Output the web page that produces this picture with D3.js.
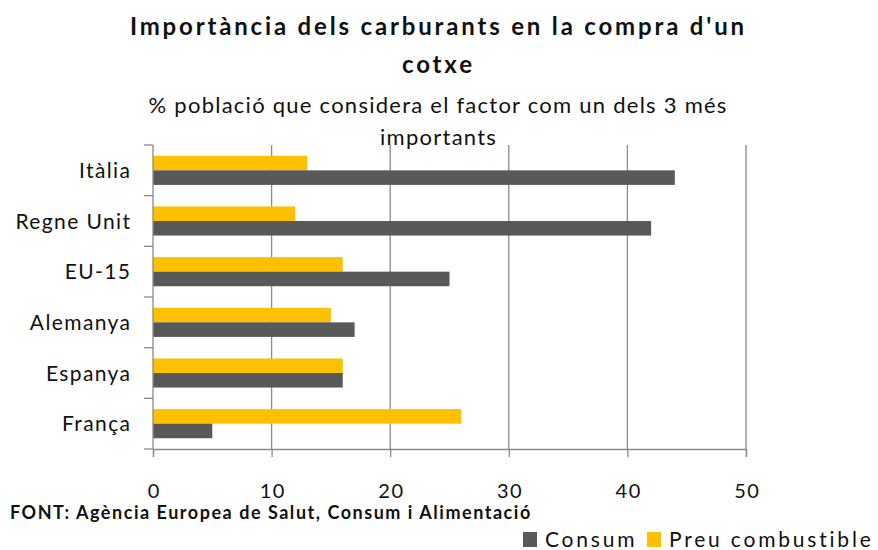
<!DOCTYPE html>
<html><head><meta charset="utf-8">
<script src="https://cdn.jsdelivr.net/npm/d3@7"></script>
<style>
html,body{margin:0;padding:0;background:#fff;}
svg{display:block;}
text{font-family:Lato,"Open Sans",sans-serif;fill:#111;}
</style></head>
<body>
<svg id="chart" width="878" height="550"></svg>
<script>
const categories = ["Itàlia","Regne Unit","EU-15","Alemanya","Espanya","França"];
const consum = [44,42,25,17,16,5];
const preuCombustible = [13,12,16,15,16,26];
const seriesNames = ["Preu combustible","Consum"];
const legendNames = ["Consum","Preu combustible"];
const xTicks = [0,10,20,30,40,50];
const titleLines = ["Importància dels carburants en la compra d'un","cotxe"];
const subtitleLines = ["% població que considera el factor com un dels 3 més","importants"];
const sourceText = "FONT: Agència Europea de Salut, Consum i Alimentació";

const colors = {"Consum":"#595959","Preu combustible":"#FFC000"};
const svg = d3.select("#chart");

// spread letters so a text reaches the width seen in the reference
function spacingFor(node, target){
  const w = node.getComputedTextLength();
  const n = node.textContent.length;
  return (target - w) / n;
}

const x = d3.scaleLinear().domain([0,50]).range([153,746]);
const y0 = d3.scaleBand().domain(categories).range([145,449]).padding(0);
const y1 = d3.scaleBand().domain(seriesNames).range([0,y0.bandwidth()]).paddingInner(0).paddingOuter(0.74);

// gridlines
svg.append("g").selectAll("line").data(xTicks.filter(d=>d>0)).join("line")
  .attr("x1",d=>x(d)).attr("x2",d=>x(d)).attr("y1",145).attr("y2",449)
  .attr("stroke","#8a8a8a").attr("stroke-width",1.3);

// bars
const rows = categories.map((c,i)=>({cat:c, vals:[{s:"Preu combustible",v:preuCombustible[i]},{s:"Consum",v:consum[i]}]}));
const g = svg.append("g").selectAll("g").data(rows).join("g")
  .attr("transform",d=>`translate(0,${y0(d.cat)})`);
g.selectAll("rect").data(d=>d.vals).join("rect")
  .attr("x",x(0)).attr("y",d=>y1(d.s)).attr("height",y1.bandwidth())
  .attr("width",d=>x(d.v)-x(0)).attr("fill",d=>colors[d.s]);

// left axis line + ticks at band boundaries
const bounds = categories.map(c=>y0(c)).concat([y0.range()[1]]);
svg.append("line").attr("x1",x(0)).attr("x2",x(0)).attr("y1",145).attr("y2",449)
  .attr("stroke","#8a8a8a").attr("stroke-width",1.3);
svg.append("g").selectAll("line").data(bounds).join("line")
  .attr("x1",x(0)-9).attr("x2",x(0)).attr("y1",d=>d).attr("y2",d=>d)
  .attr("stroke","#8a8a8a").attr("stroke-width",1.3);

// category labels
const catLabels = svg.append("g").selectAll("text").data(categories).join("text")
  .attr("x",130).attr("y",d=>y0(d)+y0.bandwidth()/2).attr("dy","0.36em")
  .attr("text-anchor","end").attr("font-size",21).text(d=>d);
{
  const ref = catLabels.filter(d=>d==="Regne Unit").node();
  const ls = spacingFor(ref,116);
  catLabels.attr("letter-spacing",ls.toFixed(2)).attr("x",130+ls);
}

// bottom axis
const xAxis = svg.append("g").attr("transform","translate(0,449)")
  .call(d3.axisBottom(x).tickValues(xTicks).tickSize(8).tickPadding(27).tickFormat(d3.format("d")));
xAxis.select(".domain").attr("stroke","#8a8a8a").attr("stroke-width",1.3);
xAxis.selectAll(".tick line").attr("stroke","#8a8a8a").attr("stroke-width",1.3);
xAxis.selectAll(".tick text").attr("font-size",20).attr("font-family","Lato,sans-serif")
  .attr("fill","#111").attr("letter-spacing",1.5).attr("dx",0.75);

// title
const t1 = svg.append("text").attr("x",437).attr("y",35).attr("text-anchor","middle")
  .attr("font-weight","bold").attr("font-size",24).text(titleLines[0]);
const tls = spacingFor(t1.node(),617);
t1.attr("letter-spacing",tls.toFixed(2)).attr("dx",tls/2);
svg.append("text").attr("x",437).attr("y",73).attr("text-anchor","middle")
  .attr("font-weight","bold").attr("font-size",24).attr("letter-spacing",tls.toFixed(2)).attr("dx",tls/2)
  .text(titleLines[1]);

// subtitle
const s1 = svg.append("text").attr("x",437.5).attr("y",113).attr("text-anchor","middle")
  .attr("font-size",22).text(subtitleLines[0]);
const sls = spacingFor(s1.node(),579);
s1.attr("letter-spacing",sls.toFixed(2)).attr("dx",sls/2);
svg.append("text").attr("x",438).attr("y",145).attr("text-anchor","middle")
  .attr("font-size",22).attr("letter-spacing",sls.toFixed(2)).attr("dx",sls/2).text(subtitleLines[1]);

// source
const src = svg.append("text").attr("x",10).attr("y",519).attr("font-weight","bold")
  .attr("font-size",18).text(sourceText);
src.attr("letter-spacing",spacingFor(src.node(),522).toFixed(2));

// legend
const legX = [523,647];
const leg = svg.append("g").selectAll("g").data(legendNames).join("g")
  .attr("transform",(d,i)=>`translate(${legX[i]},0)`);
leg.append("rect").attr("x",0).attr("y",532).attr("width",14).attr("height",15).attr("fill",d=>colors[d]);
const legT = leg.append("text").attr("x",22).attr("y",547).attr("font-size",21).text(d=>d);
{
  const ref = legT.filter(d=>d==="Preu combustible").node();
  legT.attr("letter-spacing",spacingFor(ref,205).toFixed(2));
}
</script>
</body></html>
